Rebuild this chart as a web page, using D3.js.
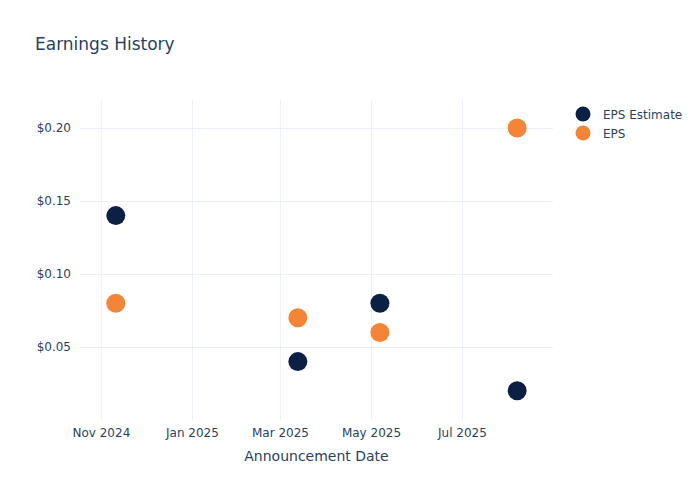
<!DOCTYPE html>
<html><head><meta charset="utf-8">
<script src="https://cdn.jsdelivr.net/npm/d3@7"></script>
<style>body{margin:0;background:#fff}svg{display:block;font-family:"DejaVu Sans",Verdana,sans-serif}</style>
</head><body>
<script>
const dates = ["2024-11-11","2025-03-13","2025-05-07","2025-08-07"];
const epsEstimate = [0.14, 0.04, 0.08, 0.02];
const eps = [0.08, 0.07, 0.06, 0.20];
const xTicks = ["2024-11-01","2025-01-01","2025-03-01","2025-05-01","2025-07-01"];
const yTicks = [0.05, 0.10, 0.15, 0.20];
const seriesNames = ["EPS Estimate", "EPS"];
const colors = ["#0c2043", "#f58536"];

const W = 700, H = 500, m = {l:80, r:147, t:100, b:80};
const parse = d3.utcParse("%Y-%m-%d");
const svg = d3.select("body").append("svg").attr("width", W).attr("height", H);
const x = d3.scaleUtc().domain([parse("2024-10-18"), parse("2025-08-31")]).range([m.l, W - m.r]);
const y = d3.scaleLinear().domain([0, 0.2192]).range([H - m.b, m.t]);
const txt = "#2a3f5f", grid = "#ebf0f8";

const gx = svg.append("g").attr("transform", `translate(0,${H - m.b})`)
  .call(d3.axisBottom(x).tickValues(xTicks.map(parse)).tickFormat(d3.utcFormat("%b %Y")).tickSize(-(H - m.t - m.b)).tickPadding(8));
const gy = svg.append("g").attr("transform", `translate(${m.l},0)`)
  .call(d3.axisLeft(y).tickValues(yTicks).tickFormat(d => "$" + d.toFixed(2)).tickSize(-(W - m.l - m.r)).tickPadding(9));
[gx, gy].forEach(g => {
  g.attr("font-family", null);
  g.select(".domain").remove();
  g.selectAll(".tick line").attr("stroke", grid).attr("stroke-width", 1);
  g.selectAll(".tick text").attr("fill", txt).attr("font-size", 12).attr("font-family", "DejaVu Sans");
});

const series = [epsEstimate, eps];
series.forEach((vals, i) => {
  svg.append("g").selectAll("circle").data(vals).join("circle")
    .attr("cx", (d, j) => x(parse(dates[j]))).attr("cy", d => y(d))
    .attr("r", 9.5).attr("fill", colors[i]);
});

svg.append("text").attr("x", 35).attr("y", 50).attr("fill", txt).attr("font-size", 17).text("Earnings History");
svg.append("text").attr("x", (m.l + W - m.r) / 2).attr("y", 461).attr("text-anchor", "middle")
  .attr("fill", txt).attr("font-size", 14).text("Announcement Date");

const lg = svg.append("g");
seriesNames.forEach((n, i) => {
  lg.append("circle").attr("cx", 583).attr("cy", 114 + i * 19).attr("r", 7.5).attr("fill", colors[i]);
  lg.append("text").attr("x", 603).attr("y", 118.5 + i * 19).attr("fill", txt).attr("font-size", 12).text(n);
});
</script>
</body></html>
